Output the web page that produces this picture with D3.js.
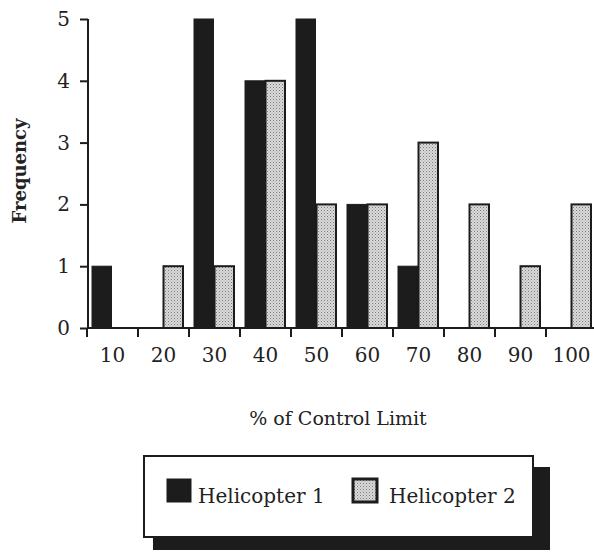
<!DOCTYPE html>
<html><head><meta charset="utf-8">
<script src="https://cdn.jsdelivr.net/npm/d3@7"></script>
<style>
body{margin:0;background:#fff;}
svg{display:block;}
text{font-family:"DejaVu Serif",serif;fill:#222;}
</style></head>
<body><svg id="c" width="594" height="554"></svg>
<script>
const bins = [10,20,30,40,50,60,70,80,90,100];
const seriesNames = ["Helicopter 1","Helicopter 2"];
const heli1 = [1,0,5,4,5,2,1,0,0,0];
const heli2 = [0,1,1,4,2,2,3,2,1,2];
const yTicks = [0,1,2,3,4,5];

const svg = d3.select("#c");
const defs = svg.append("defs");
const pat = defs.append("pattern").attr("id","stip").attr("patternUnits","userSpaceOnUse")
  .attr("width",3).attr("height",3);
pat.append("rect").attr("width",3).attr("height",3).attr("fill","#dadada");
pat.append("rect").attr("x",0).attr("y",0).attr("width",1).attr("height",1).attr("fill","#7a7a7a");
pat.append("rect").attr("x",1.5).attr("y",1.5).attr("width",1).attr("height",1).attr("fill","#9a9a9a");

const x = d3.scaleBand().domain(bins).range([87,597]).padding(0);
const xs = d3.scaleBand().domain(seriesNames).range([5,45]).paddingInner(0.05);
const y = d3.scaleLinear().domain([0,5]).range([328,19]);

const fills = ["#1c1c1c","url(#stip)"];
const data = [heli1, heli2];

// bars
data.forEach((vals, si) => {
  svg.append("g").selectAll("rect").data(bins.map((b,i)=>({b, v: vals[i]})).filter(d=>d.v>0))
    .join("rect")
    .attr("x", d => x(d.b) + xs(seriesNames[si]))
    .attr("width", xs.bandwidth())
    .attr("y", d => y(d.v))
    .attr("height", d => y(0) - y(d.v))
    .attr("fill", fills[si])
    .attr("stroke", "#1c1c1c")
    .attr("stroke-width", si === 1 ? 2 : 1);
});

// y axis
const ya = svg.append("g").attr("transform","translate(88,0)")
  .call(d3.axisLeft(y).tickValues(yTicks).tickFormat(d3.format("d")).tickSize(8).tickPadding(10));
ya.select(".domain").attr("stroke","#1c1c1c").attr("stroke-width",2).attr("d","M0,19V328");
ya.selectAll(".tick line").attr("stroke","#1c1c1c").attr("stroke-width",2);
ya.selectAll(".tick text").style("font-family","DejaVu Serif").style("font-size","20px").attr("fill","#222");

// x axis
const xa = svg.append("g").attr("transform","translate(0,328)")
  .call(d3.axisBottom(x).tickSize(0).tickPadding(20));
xa.select(".domain").attr("stroke","#1c1c1c").attr("stroke-width",2).attr("d","M87,0H594");
xa.selectAll(".tick text").style("font-family","DejaVu Serif").style("font-size","20px").attr("fill","#222");
xa.selectAll("line.bt").data(bins).join("line").attr("class","bt")
  .attr("x1", d => x(d)).attr("x2", d => x(d)).attr("y1",0).attr("y2",9)
  .attr("stroke","#1c1c1c").attr("stroke-width",2);

// titles
svg.append("text").attr("x",338).attr("y",425).attr("text-anchor","middle")
  .style("font-size","19px").text("% of Control Limit");
svg.append("text").attr("transform","translate(26,171) rotate(-90)").attr("text-anchor","middle")
  .style("font-size","18px").style("font-weight","bold").text("Frequency");

// legend
const lg = svg.append("g");
lg.append("rect").attr("x",153).attr("y",467).attr("width",397).attr("height",83).attr("fill","#1c1c1c");
lg.append("rect").attr("x",144).attr("y",456).attr("width",389).attr("height",81)
  .attr("fill","#fff").attr("stroke","#1c1c1c").attr("stroke-width",2);
const items = [{x:167, tx:198}, {x:353, tx:389}];
items.forEach((it,i) => {
  lg.append("rect").attr("x",it.x).attr("y",479).attr("width",24).attr("height",23)
    .attr("fill",fills[i]).attr("stroke","#1c1c1c").attr("stroke-width", i===1?3:1);
  lg.append("text").attr("x",it.tx).attr("y",503).style("font-size","20px").text(seriesNames[i]);
});
</script></body></html>
